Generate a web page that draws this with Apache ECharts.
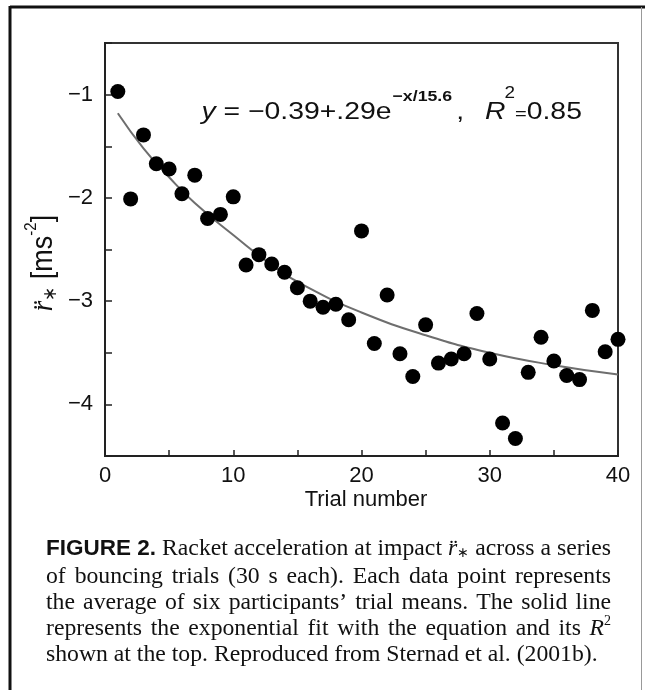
<!DOCTYPE html>
<html><head><meta charset="utf-8">
<script src="https://cdn.jsdelivr.net/npm/echarts@6/dist/echarts.min.js"></script>
<style>html,body{margin:0;padding:0;background:#fff}#c{width:645px;height:690px}</style>
</head><body><div id="c"></div>
<script>
// ---- data ----
const trials = [1,2,3,4,5,6,7,8,9,10,11,12,13,14,15,16,17,18,19,20,21,22,23,24,25,26,27,28,29,30,31,32,33,34,35,36,37,38,39,40];
const accel = [-0.97,-2.01,-1.39,-1.67,-1.72,-1.96,-1.78,-2.20,-2.16,-1.99,
               -2.65,-2.55,-2.64,-2.72,-2.87,-3.00,-3.06,-3.03,-3.18,-2.32,
               -3.41,-2.94,-3.51,-3.73,-3.23,-3.60,-3.56,-3.51,-3.12,-3.56,
               -4.18,-4.33,-3.69,-3.35,-3.58,-3.72,-3.76,-3.09,-3.49,-3.37];
// fitted curve, points
const fitX = [1, 3, 5, 7, 10, 13, 16, 20, 25, 30, 35, 40];
const fitY = [-1.18, -1.52, -1.80, -2.05, -2.36, -2.65, -2.88, -3.11, -3.33, -3.50, -3.62, -3.71];
const xTickLabels = ['0','10','20','30','40'];
const yTickLabels = ['\u22121','\u22122','\u22123','\u22124'];

// ---- text helpers ----
const SERIF = "'Liberation Serif','Times New Roman',serif";
const SANS = "'Liberation Sans',Arial,Helvetica,sans-serif";
const ctx = document.createElement('canvas').getContext('2d');
function fstr(r){ return (r.style||'normal')+' '+(r.weight||'normal')+' '+r.size+'px '+r.fam; }
function mw(r){ ctx.font = fstr(r); return ctx.measureText(r.t).width; }
function runsW(runs){ return runs.reduce((s,r)=>s+mw(r),0); }
function textEl(r, x, y, sx){
  return {type:'text', x:x, y:y+(r.dy||0), scaleX:sx, silent:true,
    style:{text:r.t, font:fstr(r), fill:'#111', align:'left', textAlign:'left', verticalAlign:'middle', textVerticalAlign:'middle'}};
}
function placeRuns(runs, x, y, sx, out){ let cx=x; for(const r of runs){ out.push(textEl(r,cx,y,sx)); cx += mw(r)*sx; } return cx; }

const graphics = [];
// frame
graphics.push({type:'line', shape:{x1:10,y1:7,x2:645,y2:7}, style:{stroke:'#111',lineWidth:3}, silent:true});
graphics.push({type:'line', shape:{x1:10,y1:6,x2:10,y2:700}, style:{stroke:'#111',lineWidth:3}, silent:true});
graphics.push({type:'line', shape:{x1:641.5,y1:7,x2:641.5,y2:700}, style:{stroke:'#999',lineWidth:1}, silent:true});

// equation
const EQ = 24;
const eq1 = [{t:'y',fam:SANS,size:EQ,style:'italic'},{t:' = \u22120.39+.29e',fam:SANS,size:EQ}];
const eqSx = 190 / runsW(eq1);
let ex = placeRuns(eq1, 201.5, 112, eqSx, graphics);
ex = placeRuns([{t:'\u2212x/15.6',fam:SANS,size:15,weight:'bold',dy:-15}], ex+1, 112, eqSx, graphics);
placeRuns([{t:',',fam:SANS,size:EQ}], ex+4, 112, eqSx, graphics);
let rx = placeRuns([{t:'R',fam:SANS,size:EQ,style:'italic'}], 485, 112, eqSx, graphics);
rx = placeRuns([{t:'2',fam:SANS,size:16,dy:-18}], rx-1, 112, eqSx, graphics);
rx = placeRuns([{t:'=',fam:SANS,size:17,dy:2}], rx, 112, eqSx, graphics);
placeRuns([{t:'0.85',fam:SANS,size:EQ}], rx, 112, eqSx, graphics);

// x axis name
graphics.push({type:'text', x:366, y:500, silent:true,
  style:{text:'Trial number', font:'normal normal 22px '+SANS, fill:'#111', align:'center', textAlign:'center', verticalAlign:'middle', textVerticalAlign:'middle'}});

// y axis name (rotated)
(function(){
  const S = 27;
  const runs = [
    {t:'r\u0308',fam:SERIF,size:S,style:'italic'},
    {t:'\u2217',fam:SANS,size:17,dy:6},
    {t:' [ms',fam:SANS,size:S},
    {t:'-2',fam:SANS,size:15,dy:-11},
    {t:']',fam:SANS,size:S}
  ];
  const w = runsW(runs);
  const kids = [];
  placeRuns(runs, -w/2, 0, 1, kids);
  graphics.push({type:'group', x:44, y:263, rotation:Math.PI/2, scaleY:1.12, children:kids});
})();

// caption
(function(){
  const L = 46, R = 611;
  const lastLine = 'shown at the top. Reproduced from Sternad et al. (2001b).';
  const CS = 22 * 552 / mw({t:lastLine, fam:SERIF, size:22});
  const lineY = [549, 577, 603, 629, 655];
  const serif = (t,o)=>Object.assign({t:t,fam:SERIF,size:CS},o||{});
  const words = s => s.split(' ').map(w=>[serif(w)]);
  const lines = [
    [[{t:'FIGURE 2.',fam:SANS,size:22.5,weight:'bold'}]].concat(words('Racket acceleration at impact'),
      [[serif('r\u0308',{style:'italic'}), serif('\u2217',{size:14,dy:4})]], words('across a series')),
    words('of bouncing trials (30 s each). Each data point represents'),
    words('the average of six participants\u2019 trial means. The solid line'),
    words('represents the exponential fit with the equation and its').concat([[serif('R',{style:'italic'}), serif('2',{size:14,dy:-8})]]),
    words(lastLine)
  ];
  lines.forEach((toks, i)=>{
    const ws = toks.map(runsW);
    const tot = ws.reduce((a,b)=>a+b,0);
    const justify = i < lines.length-1;
    const gap = justify ? (R-L-tot)/(toks.length-1) : mw(serif(' '));
    let x = L;
    toks.forEach((tk,j)=>{ placeRuns(tk, x, lineY[i], 1, graphics); x += ws[j] + gap; });
  });
})();

const chart = echarts.init(document.getElementById('c'), null, {renderer:'canvas'});
chart.setOption({
  backgroundColor:'#fff',
  animation:false,
  grid:{left:105, top:43, right:27, bottom:234, show:true, borderColor:'#333', borderWidth:2, backgroundColor:'transparent'},
  xAxis:{type:'value', min:0, max:40, interval:5,
    axisLine:{lineStyle:{color:'#222', width:2}},
    axisTick:{inside:true, length:6, lineStyle:{color:'#222', width:1.5}},
    axisLabel:{margin:9, fontSize:22, fontFamily:SANS, color:'#111',
      formatter:v => (v % 10 === 0 ? xTickLabels[v/10] : '')},
    splitLine:{show:false}},
  yAxis:{type:'value', min:-4.5, max:-0.5, interval:0.5,
    axisLine:{show:true, lineStyle:{color:'#222', width:2}},
    axisTick:{show:true, inside:true, length:7, lineStyle:{color:'#222', width:1.5}},
    axisLabel:{margin:12, fontSize:22, fontFamily:SANS, color:'#111',
      formatter:v => (Number.isInteger(v) && v <= -1 && v >= -4 ? yTickLabels[-v-1] : '')},
    splitLine:{show:false}},
  series:[
    {type:'line', data:fitX.map((x,i)=>[x, fitY[i]]), smooth:true, showSymbol:false, symbol:'none',
     lineStyle:{color:'#6e6e6e', width:2}, z:2},
    {type:'scatter', data:trials.map((x,i)=>[x, accel[i]]), symbol:'circle', symbolSize:15,
     itemStyle:{color:'#000', opacity:1}, z:3}
  ],
  graphic:graphics
});
</script></body></html>
